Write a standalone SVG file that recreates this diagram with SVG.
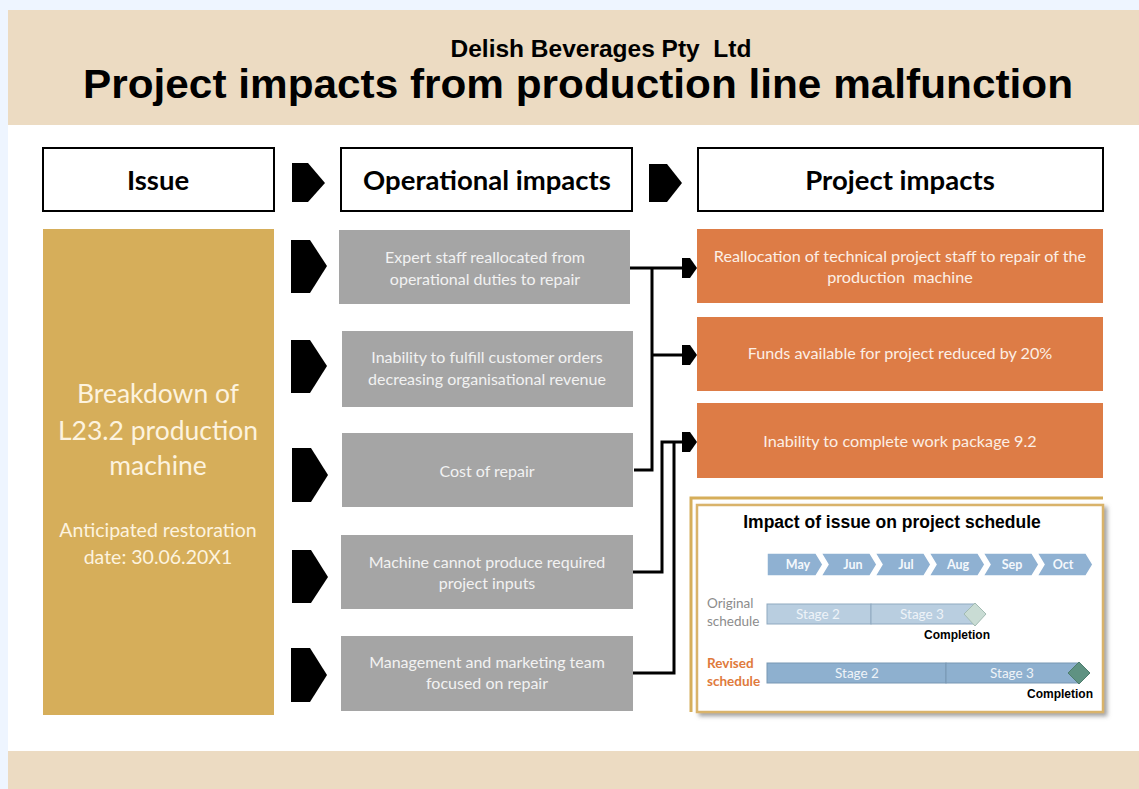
<svg xmlns="http://www.w3.org/2000/svg" width="1139" height="789" viewBox="0 0 1139 789">
<defs>
<style>
.bg{fill:#EEF5FF}
.beige{fill:#ECDBC2}
.hdr{fill:#FFFFFF;stroke:#000;stroke-width:2}
.hdrt{font-family:Lato,"Open Sans",sans-serif;font-weight:bold;font-size:27.5px;fill:#000;text-anchor:middle}
.pent{fill:#000}
.gray{fill:#A5A5A5}
.grayt{font-family:Lato,"Open Sans",sans-serif;font-size:16px;fill:#F2F2F2;text-anchor:middle}
.orange{fill:#DD7C46}
.oranget{font-family:Lato,"Open Sans",sans-serif;font-size:16.2px;fill:#FCEFE5;text-anchor:middle;white-space:pre}
.goldt{font-family:Lato,"Open Sans",sans-serif;fill:#FDF3DF;text-anchor:middle}
.conn{fill:none;stroke:#000;stroke-width:3}
.chev{fill:#8FB1D2;stroke:#FFFFFF;stroke-width:1.5}
.mon{font-family:Lato,"Open Sans",sans-serif;font-weight:bold;font-size:12.5px;fill:#F4F8FC;text-anchor:middle}
.stg{font-family:Lato,"Open Sans",sans-serif;font-size:13.5px;fill:#EEF3F8;text-anchor:middle}
.comp{font-family:"Liberation Sans",Arial,sans-serif;font-weight:bold;font-size:12px;fill:#000;text-anchor:middle}
.lbl{font-family:Lato,"Open Sans",sans-serif;font-size:13.5px}
</style>
<marker id="ah" markerUnits="userSpaceOnUse" markerWidth="16" markerHeight="20" refX="0" refY="10" orient="auto">
<path d="M0,0 H8 L15,10 L8,20 H0 Z" fill="#000"/>
</marker>
<filter id="sh" x="-5%" y="-5%" width="115%" height="120%">
<feDropShadow dx="3" dy="3" stdDeviation="2" flood-color="#777" flood-opacity="0.7"/>
</filter>
</defs>

<rect class="bg" x="0" y="0" width="1139" height="789"/>
<rect x="8" y="10" width="1131" height="779" fill="#FFFFFF"/>
<rect class="beige" x="8" y="10" width="1131" height="115"/>
<rect class="beige" x="8" y="751" width="1131" height="38"/>

<g id="title">
<text x="601" y="57" font-family="'Liberation Sans',Arial,sans-serif" font-weight="bold" font-size="24.5" text-anchor="middle" style="white-space:pre">Delish Beverages Pty  Ltd</text>
<text x="578" y="98" font-family="'Liberation Sans',Arial,sans-serif" font-weight="bold" font-size="40" text-anchor="middle" textLength="990" lengthAdjust="spacingAndGlyphs">Project impacts from production line malfunction</text>
</g>

<g id="hdr-issue">
<rect class="hdr" x="43" y="148" width="231" height="63"/>
<text class="hdrt" x="158" y="190">Issue</text>
</g>
<g id="hdr-operational">
<rect class="hdr" x="341" y="148" width="291" height="63"/>
<text class="hdrt" x="487" y="190">Operational impacts</text>
</g>
<g id="hdr-project">
<rect class="hdr" x="698" y="148" width="405" height="63"/>
<text class="hdrt" x="900" y="190">Project impacts</text>
</g>

<g id="hdr-arrows">
<polygon class="pent" points="292,163 308,163 325,183 308,202 292,202"/>
<polygon class="pent" points="649,164 667,164 682,183 667,202 649,202"/>
</g>

<g id="issue">
<rect x="43" y="229" width="231" height="486" fill="#D6AE5A"/>
<text class="goldt" font-size="26.5" x="158" y="403">Breakdown of</text>
<text class="goldt" font-size="26.5" x="158" y="440">L23.2 production</text>
<text class="goldt" font-size="26.5" x="158" y="475">machine</text>
<text class="goldt" font-size="19.5" x="158" y="537">Anticipated restoration</text>
<text class="goldt" font-size="19.5" x="158" y="564">date: 30.06.20X1</text>
</g>

<g id="row-arrows">
<polygon class="pent" points="291,240 310,240 327,266 310,293 291,293"/>
<polygon class="pent" points="291,340 310,340 327,366 310,393 291,393"/>
<polygon class="pent" points="292,448 311,448 328,475 311,502 292,502"/>
<polygon class="pent" points="292,550 311,550 328,577 311,603 292,603"/>
<polygon class="pent" points="291,648 310,648 327,675 310,702 291,702"/>
</g>

<g id="op1">
<rect class="gray" x="339" y="230" width="291" height="74"/>
<text class="grayt" x="485" y="263">Expert staff reallocated from</text>
<text class="grayt" x="485" y="285">operational duties to repair</text>
</g>
<g id="op2">
<rect class="gray" x="342" y="331" width="291" height="76"/>
<text class="grayt" x="487" y="363">Inability to fulfill customer orders</text>
<text class="grayt" x="487" y="385">decreasing organisational revenue</text>
</g>
<g id="op3">
<rect class="gray" x="342" y="433" width="291" height="74"/>
<text class="grayt" x="487" y="477">Cost of repair</text>
</g>
<g id="op4">
<rect class="gray" x="341" y="535" width="292" height="74"/>
<text class="grayt" x="487" y="568">Machine cannot produce required</text>
<text class="grayt" x="487" y="589">project inputs</text>
</g>
<g id="op5">
<rect class="gray" x="341" y="636" width="292" height="75"/>
<text class="grayt" x="487" y="668">Management and marketing team</text>
<text class="grayt" x="487" y="689">focused on repair</text>
</g>

<g id="pi1">
<rect class="orange" x="697" y="229" width="406" height="74"/>
<text class="oranget" x="900" y="262">Reallocation of technical project staff to repair of the</text>
<text class="oranget" x="900" y="283">production  machine</text>
</g>
<g id="pi2">
<rect class="orange" x="697" y="317" width="406" height="74"/>
<text class="oranget" x="900" y="359">Funds available for project reduced by 20%</text>
</g>
<g id="pi3">
<rect class="orange" x="697" y="403" width="406" height="75"/>
<text class="oranget" x="900" y="447">Inability to complete work package 9.2</text>
</g>

<g id="connectors">
<path class="conn" d="M630,268 H682" marker-end="url(#ah)"/>
<path class="conn" d="M634,470 H652 V268"/>
<path class="conn" d="M652,355 H682" marker-end="url(#ah)"/>
<path class="conn" d="M633,572 H662 V442 H682" marker-end="url(#ah)"/>
<path class="conn" d="M633,673 H674 V442"/>
</g>

<g id="schedule">
<path d="M691,712 V498 H1103" fill="none" stroke="#D6AE5A" stroke-width="3"/>
<rect x="697" y="505" width="406" height="207" fill="#FFFFFF" stroke="#D9B36A" stroke-width="2.5" filter="url(#sh)"/>
<text x="892" y="528" font-family="'Liberation Sans',Arial,sans-serif" font-weight="bold" font-size="17.5" text-anchor="middle">Impact of issue on project schedule</text>
<path class="chev" d="M1037,553 H1086 L1093,564.5 L1086,576 H1037 L1044,564.5 Z"/>
<path class="chev" d="M983,553 H1032 L1039,564.5 L1032,576 H983 L990,564.5 Z"/>
<path class="chev" d="M929,553 H978 L985,564.5 L978,576 H929 L936,564.5 Z"/>
<path class="chev" d="M875,553 H924 L931,564.5 L924,576 H875 L882,564.5 Z"/>
<path class="chev" d="M821,553 H870 L877,564.5 L870,576 H821 L828,564.5 Z"/>
<path class="chev" d="M767,553 H816 L823,564.5 L816,576 H767 Z"/>
<text class="mon" x="798" y="569">May</text>
<text class="mon" x="853" y="569">Jun</text>
<text class="mon" x="906" y="569">Jul</text>
<text class="mon" x="958" y="569">Aug</text>
<text class="mon" x="1012" y="569">Sep</text>
<text class="mon" x="1063" y="569">Oct</text>

<text class="lbl" x="707" y="608" fill="#8C8C8C">Original</text>
<text class="lbl" x="707" y="626" fill="#8C8C8C">schedule</text>
<rect x="767" y="604" width="104" height="20" fill="#B9CEE0" stroke="#8FA9C0" stroke-width="1"/>
<rect x="871" y="604" width="104" height="20" fill="#B9CEE0" stroke="#8FA9C0" stroke-width="1"/>
<text class="stg" x="818" y="619">Stage 2</text>
<text class="stg" x="922" y="619">Stage 3</text>
<polygon points="975,603 986,614 975,626 964,614" fill="#C9DCD4" stroke="#A2BBB2" stroke-width="1"/>
<text class="comp" x="957" y="639">Completion</text>

<text class="lbl" x="707" y="668" fill="#E07A3C" font-weight="bold">Revised</text>
<text class="lbl" x="707" y="686" fill="#E07A3C" font-weight="bold">schedule</text>
<rect x="767" y="663" width="179" height="20" fill="#8EB0CF" stroke="#7897B3" stroke-width="1"/>
<rect x="946" y="663" width="133" height="20" fill="#8EB0CF" stroke="#7897B3" stroke-width="1"/>
<text class="stg" x="857" y="678">Stage 2</text>
<text class="stg" x="1012" y="678">Stage 3</text>
<polygon points="1079,662 1090,673 1079,684 1068,673" fill="#5F9282" stroke="#4E7D6E" stroke-width="1"/>
<text class="comp" x="1060" y="698">Completion</text>
</g>
</svg>
